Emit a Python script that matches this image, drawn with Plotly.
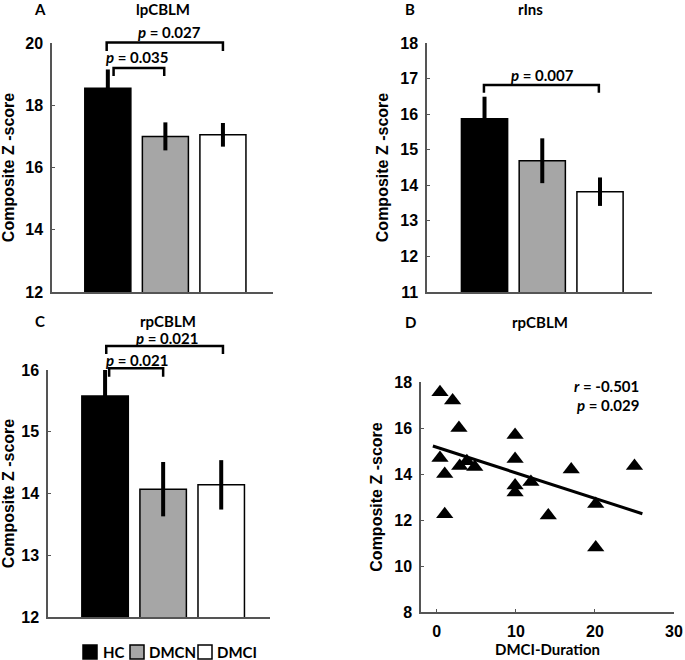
import plotly.graph_objects as go

W, H = 685, 660

groups = ["HC", "DMCN", "DMCI"]
group_pos = [1, 2, 3]
bar_colors = ["#000000", "#a6a6a6", "#ffffff"]

# Panel A: lpCBLM
lp_mean = [18.55, 17.0, 17.05]
lp_err = [0.6, 0.45, 0.38]
# Panel B: rIns
rins_mean = [15.87, 14.69, 13.82]
rins_err = [0.62, 0.63, 0.40]
# Panel C: rpCBLM
rp_mean = [15.58, 14.07, 14.14]
rp_err = [0.43, 0.44, 0.40]

# Panel D: rpCBLM vs DMCI duration
dmci_duration = [0.4, 2.0, 2.8, 0.4, 1.0, 1.0, 2.9, 3.8, 4.8, 9.9, 9.9, 9.9, 9.9,
                 11.9, 14.1, 17.0, 20.1, 20.1, 25.0]
rp_zscore = [17.55, 17.2, 16.0, 14.7, 14.0, 12.25, 14.35, 14.55, 14.3, 15.7, 14.65,
             13.5, 13.2, 13.65, 12.2, 14.2, 12.7, 10.8, 14.35]
fit_intercept = 15.16
fit_slope = -0.111
fit_x = [-0.5, 26.0]

# significance brackets: (left, right, top, leg bottom, p text, text x, text y)
lp_brackets = [(1.1, 1.98, 19.2, 18.94, "0.035", 1.5, 19.55),
               (0.98, 3.0, 20.02, 19.74, "0.027", 2.08, 20.35)]
rins_brackets = [(0.99, 2.98, 16.82, 16.6, "0.007", 2.01, 17.1)]
rp_brackets = [(1.07, 2.0, 16.03, 15.89, "0.021", 1.55, 16.16),
               (1.02, 3.03, 16.39, 16.26, "0.021", 2.07, 16.52)]
stat_r, stat_p = "-0.501", "0.029"

# axis ranges
xr_A, yr_A = [0.03, 3.87], [12, 20]
xr_B, yr_B = [0.004, 3.9], [11, 18]
xr_C, yr_C = [0.017, 3.84], [12, 16]
xr_D, yr_D = [-2, 30], [8, 18]


def xdom(a, b):
    return [a / W, b / W]


def ydom(top, bottom):
    return [1 - bottom / H, 1 - top / H]


TICKFONT = dict(family="Liberation Sans, Arial", size=16, color="#000", weight="bold")
TITLEFONT = dict(family="Liberation Sans, Arial", size=16, color="#000", weight="bold")
LABFONT = dict(family="Lato, Open Sans", size=15, color="#000", weight="bold")
AXCOL = "#555555"

fig = go.Figure()

panels = [("x", "y", lp_mean, lp_err),
          ("x2", "y2", rins_mean, rins_err),
          ("x3", "y3", rp_mean, rp_err)]
for xa, ya, means, errs in panels:
    for i, g in enumerate(groups):
        fig.add_trace(go.Bar(
            x=[group_pos[i]], y=[means[i]], name=g, width=0.8,
            marker=dict(color=bar_colors[i], line=dict(color="#000", width=1.5)),
            error_y=dict(type="data", array=[errs[i]], color="#000", thickness=4, width=0),
            xaxis=xa, yaxis=ya, showlegend=False, cliponaxis=False,
        ))

fig.add_trace(go.Scatter(
    x=dmci_duration, y=rp_zscore, mode="markers",
    marker=dict(symbol="triangle-up", size=15, color="#000"),
    xaxis="x4", yaxis="y4", showlegend=False, cliponaxis=False,
))
fig.add_trace(go.Scatter(
    x=fit_x, y=[fit_intercept + fit_slope * v for v in fit_x], mode="lines",
    line=dict(color="#000", width=3), xaxis="x4", yaxis="y4", showlegend=False,
))

shapes = []
annotations = []


def frac(v, r):
    return (v - r[0]) / (r[1] - r[0])


def add_brackets(brs, xa, ya, xr, yr):
    for l, r, top, bot, p, tx, ty in brs:
        shapes.append(dict(
            type="path", xref=xa + " domain", yref=ya + " domain",
            path=(f"M{frac(l, xr)},{frac(bot, yr)} L{frac(l, xr)},{frac(top, yr)} "
                  f"L{frac(r, xr)},{frac(top, yr)} L{frac(r, xr)},{frac(bot, yr)}"),
            line=dict(color="#000", width=2.5),
        ))
        annotations.append(dict(
            x=frac(tx, xr), y=frac(ty, yr), xref=xa + " domain", yref=ya + " domain",
            text=f"<i>p</i> = {p}", showarrow=False,
            font=LABFONT, xanchor="center", yanchor="middle",
        ))


add_brackets(lp_brackets, "x", "y", xr_A, yr_A)
add_brackets(rins_brackets, "x2", "y2", xr_B, yr_B)
add_brackets(rp_brackets, "x3", "y3", xr_C, yr_C)

annotations.append(dict(x=25.8, y=17.83, xref="x4", yref="y4", text=f"<i>r</i> = {stat_r}",
                        showarrow=False, font=LABFONT, xanchor="right", yanchor="middle"))
annotations.append(dict(x=25.8, y=17.0, xref="x4", yref="y4", text=f"<i>p</i> = {stat_p}",
                        showarrow=False, font=LABFONT, xanchor="right", yanchor="middle"))

# panel letters and titles
titles = [("A", 40, 9), ("lpCBLM", 163, 9), ("B", 410, 9), ("rIns", 530, 9),
          ("C", 40, 321), ("rpCBLM", 168, 321), ("D", 410, 322), ("rpCBLM", 540, 322)]
for t, px, py in titles:
    annotations.append(dict(x=px / W, y=1 - py / H, xref="paper", yref="paper", text=t,
                            showarrow=False, font=LABFONT, xanchor="center", yanchor="middle"))

# legend (swatch + label)
legend_items = [(83, 101), (130, 147), (198, 215)]
for i, g in enumerate(groups):
    bx, tx = legend_items[i]
    shapes.append(dict(type="rect", xref="paper", yref="paper",
                       x0=bx / W, x1=(bx + 14) / W, y0=1 - 659 / H, y1=1 - 645 / H,
                       fillcolor=bar_colors[i], line=dict(color="#000", width=1.5)))
    annotations.append(dict(x=tx / W, y=1 - 652 / H, xref="paper", yref="paper", text=g,
                            showarrow=False, font=LABFONT, xanchor="left", yanchor="middle"))

common_x_bar = dict(showline=True, linecolor=AXCOL, linewidth=1.5, showticklabels=False,
                    ticks="", showgrid=False, zeroline=False, automargin=False)
common_y = dict(showline=True, linecolor=AXCOL, linewidth=1.5, ticks="inside", ticklen=3,
                tickcolor=AXCOL, tickfont=TICKFONT, showgrid=False, zeroline=False,
                automargin=False, ticklabelstandoff=4)
ytitle = dict(text="Composite Z -score", font=TITLEFONT, standoff=8)

fig.update_layout(
    template="none",
    width=W, height=H, margin=dict(l=0, r=0, t=0, b=0, autoexpand=False),
    paper_bgcolor="white", plot_bgcolor="white", barmode="overlay", showlegend=False,
    xaxis=dict(domain=xdom(52, 273), range=xr_A, anchor="y", **common_x_bar),
    yaxis=dict(domain=ydom(43, 292), range=yr_A, dtick=2, anchor="x", title=ytitle, **common_y),
    xaxis2=dict(domain=xdom(427, 652), range=xr_B, anchor="y2", **common_x_bar),
    yaxis2=dict(domain=ydom(43, 292), range=yr_B, dtick=1, anchor="x2", title=ytitle, **common_y),
    xaxis3=dict(domain=xdom(48, 270), range=xr_C, anchor="y3", **common_x_bar),
    yaxis3=dict(domain=ydom(370, 617), range=yr_C, dtick=1, anchor="x3", title=ytitle, **common_y),
    xaxis4=dict(domain=xdom(421, 674), range=xr_D, dtick=10, anchor="y4",
                title=dict(text="DMCI-Duration", font=LABFONT, standoff=6), **common_y),
    yaxis4=dict(domain=ydom(382, 612), range=yr_D, dtick=2, anchor="x4", title=ytitle, **common_y),
    shapes=shapes, annotations=annotations,
)

fig.write_html("out.html", config={"displayModeBar": False},
               post_script="document.body.style.margin='0';")
